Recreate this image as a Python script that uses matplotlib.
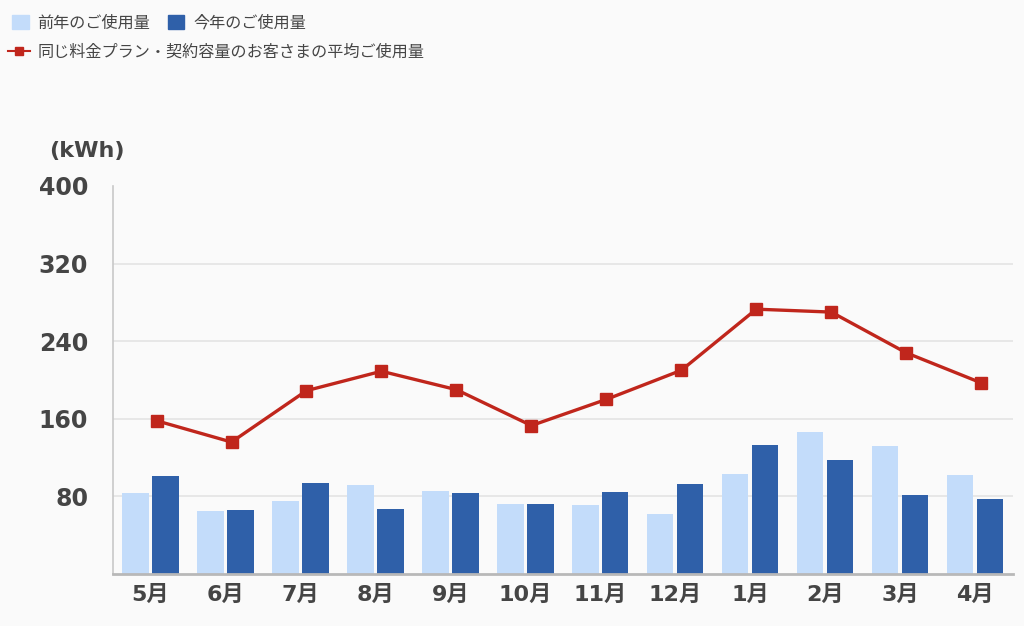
import numpy as np
import matplotlib.pyplot as plt
from matplotlib.patches import Patch
from matplotlib.lines import Line2D

plt.rcParams['font.family'] = ['Noto Sans CJK JP', 'DejaVu Sans']

# data
months = ["5月", "6月", "7月", "8月", "9月", "10月", "11月", "12月", "1月", "2月", "3月", "4月"]
last_year = [84, 65, 75, 92, 86, 72, 71, 62, 103, 146, 132, 102]
this_year = [101, 66, 94, 67, 84, 72, 85, 93, 133, 118, 81, 77]
average = [158, 136, 189, 209, 190, 153, 180, 210, 273, 270, 228, 197]
yticks = [80, 160, 240, 320, 400]

c_last = "#c3dcfa"
c_this = "#2f60a9"
c_avg = "#c0261c"
c_text = "#454545"
bg = "#fafafa"
num_font = ['DejaVu Sans', 'Noto Sans CJK JP']

fig = plt.figure(figsize=(10.24, 6.26), dpi=100, facecolor=bg)
ax = fig.add_axes([0.1104, 0.0831, 0.8786, 0.6198], facecolor=bg)

x = np.arange(len(months))
w = 0.35
ax.bar(x - 0.2, last_year, w, color=c_last, zorder=2)
ax.bar(x + 0.2, this_year, w, color=c_this, zorder=2)
ax.plot(x + 0.08, average, color=c_avg, lw=2.4, marker="s", ms=8.5, zorder=3)

ax.set_xlim(-0.5, 11.5)
ax.set_ylim(0, 400)
ax.set_yticks(yticks)
ax.set_xticks(x)
ax.set_xticklabels(months)
for y in yticks[:-1]:
    ax.axhline(y, color="#e4e4e4", lw=1.2, zorder=1)

for s in ["top", "right"]:
    ax.spines[s].set_visible(False)
ax.spines["left"].set_color("#c8c8c8")
ax.spines["left"].set_linewidth(1.2)
ax.spines["bottom"].set_color("#b8b8b8")
ax.spines["bottom"].set_linewidth(2)
ax.tick_params(length=0, colors=c_text)
ax.tick_params(axis="y", pad=18)
ax.tick_params(axis="x", pad=8)
for t in ax.get_yticklabels():
    t.set_family(num_font)
    t.set_fontweight("bold")
    t.set_fontsize(17)
for t in ax.get_xticklabels():
    t.set_family(num_font)
    t.set_fontweight("bold")
    t.set_fontsize(16)

fig.text(0.048, 0.758, "(kWh)", fontsize=16, fontweight="bold", family=num_font,
         color=c_text, va="center")

h1 = [Patch(color=c_last, label="前年のご使用量"), Patch(color=c_this, label="今年のご使用量")]
fig.legend(handles=h1, loc="upper left", bbox_to_anchor=(-0.002, 1.0), ncol=2, frameon=False,
           fontsize=11.6, handlelength=1.0, handleheight=1.0, handletextpad=0.56, columnspacing=1.1,
           labelcolor=c_text)
h2 = [Line2D([0], [0], color=c_avg, lw=1.5, marker="s", ms=6, label="同じ料金プラン・契約容量のお客さまの平均ご使用量")]
fig.legend(handles=h2, loc="upper left", bbox_to_anchor=(-0.006, 0.953), frameon=False,
           fontsize=11.6, handlelength=1.37, handletextpad=0.44, labelcolor=c_text)

fig.savefig("out.png", dpi=100, facecolor=bg)
